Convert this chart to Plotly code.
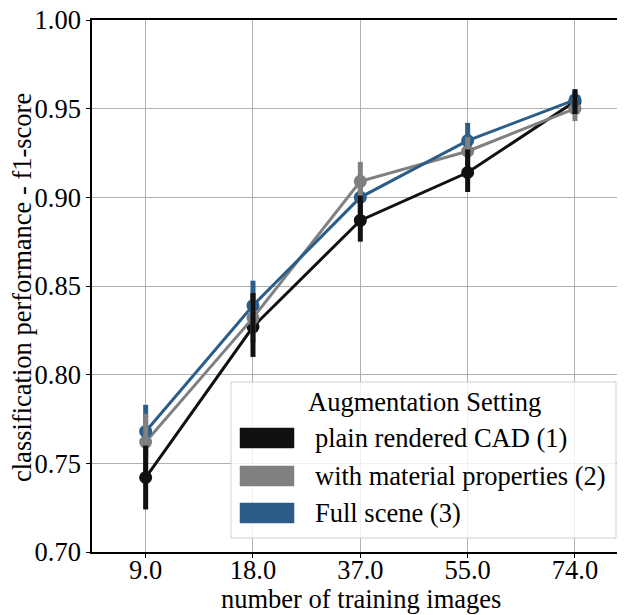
import plotly.graph_objects as go

categories = ["9.0", "18.0", "37.0", "55.0", "74.0"]
series_names = ["plain rendered CAD (1)", "with material properties (2)", "Full scene (3)"]
colors = ["#111111", "#808080", "#2b5d88"]

means = [
    [0.742, 0.827, 0.887, 0.914, 0.954],
    [0.762, 0.832, 0.909, 0.926, 0.950],
    [0.768, 0.839, 0.900, 0.932, 0.955],
]
ci_low = [
    [0.724, 0.810, 0.875, 0.903, 0.947],
    [0.745, 0.818, 0.898, 0.918, 0.943],
    [0.753, 0.826, 0.890, 0.923, 0.950],
]
ci_high = [
    [0.760, 0.846, 0.901, 0.927, 0.961],
    [0.778, 0.846, 0.920, 0.934, 0.956],
    [0.783, 0.853, 0.910, 0.942, 0.960],
]
y_ticks = [0.70, 0.75, 0.80, 0.85, 0.90, 0.95, 1.00]
y_ticklabels = ["0.70", "0.75", "0.80", "0.85", "0.90", "0.95", "1.00"]

FONT = "Liberation Serif"
FS = 26.5
xidx = list(range(len(categories)))

fig = go.Figure()
for name, col, m in zip(series_names, colors, means):
    fig.add_trace(go.Scatter(
        x=xidx, y=m, mode="lines+markers", name=name,
        line=dict(color=col, width=3),
        marker=dict(color=col, size=13),
        showlegend=False,
    ))
for i in [2, 1, 0]:
    m = means[i]
    fig.add_trace(go.Scatter(
        x=xidx, y=m, mode="markers",
        marker=dict(color=colors[i], size=1, opacity=0),
        error_y=dict(type="data", symmetric=False,
                     array=[h - v for h, v in zip(ci_high[i], m)],
                     arrayminus=[v - l for l, v in zip(ci_low[i], m)],
                     color=colors[i], thickness=5, width=0),
        showlegend=False, hoverinfo="skip",
    ))

# page pixel -> paper coordinate helpers (plot area: x 92..625, y 20..552 on the page)
def px2x(px):
    return (px - 92) / 533.0

def py2y(py):
    return (552 - py) / 532.0

# manual legend (patch-style)
fig.add_shape(type="rect", xref="paper", yref="paper",
              x0=px2x(231), x1=px2x(616), y0=py2y(538), y1=py2y(382),
              line=dict(color="#d0d0d0", width=1), fillcolor="rgba(255,255,255,0.8)",
              layer="above")
fig.add_annotation(xref="paper", yref="paper", x=px2x(424), y=py2y(402),
                   text="Augmentation Setting", showarrow=False,
                   font=dict(family=FONT, size=FS, color="black"),
                   xanchor="center", yanchor="middle")
rows = [438, 476, 513]
for name, col, ry in zip(series_names, colors, rows):
    fig.add_shape(type="rect", xref="paper", yref="paper",
                  x0=px2x(240), x1=px2x(294), y0=py2y(ry + 10), y1=py2y(ry - 10),
                  line=dict(color=col, width=0.5), fillcolor=col, layer="above")
    fig.add_annotation(xref="paper", yref="paper", x=px2x(313), y=py2y(ry),
                       text=name, showarrow=False,
                       font=dict(family=FONT, size=FS, color="black"),
                       xanchor="left", yanchor="middle")

# axis titles
fig.add_annotation(xref="paper", yref="paper", x=px2x(361), y=py2y(599),
                   text="number of training images", showarrow=False,
                   font=dict(family=FONT, size=FS, color="black"),
                   xanchor="center", yanchor="middle")
fig.add_annotation(xref="paper", yref="paper", x=px2x(22), y=py2y(288),
                   text="classification performance - f1-score", showarrow=False,
                   textangle=-90,
                   font=dict(family=FONT, size=FS, color="black"),
                   xanchor="center", yanchor="middle")

# figure is placed 8px in from the page corner (default body margin)
fig.update_layout(
    width=617, height=607,
    margin=dict(l=84, r=0, t=12, b=63),
    paper_bgcolor="white", plot_bgcolor="white",
    font=dict(family=FONT, color="black"),
    showlegend=False,
)
fig.update_xaxes(
    range=[-0.5, 4.466], tickvals=xidx, ticktext=categories,
    showgrid=True, gridcolor="#b0b0b0", gridwidth=1,
    showline=True, linecolor="black", linewidth=1.5, mirror=True,
    ticks="outside", ticklen=4, tickcolor="black",
    tickfont=dict(family=FONT, size=FS), ticklabelstandoff=-11,
    ticklabeloverflow="allow",
    zeroline=False, automargin=False,
)
fig.update_yaxes(
    range=[0.70, 1.00], tickvals=y_ticks, ticktext=y_ticklabels,
    showgrid=True, gridcolor="#b0b0b0", gridwidth=1,
    showline=True, linecolor="black", linewidth=1.5, mirror=False,
    ticks="outside", ticklen=4, tickcolor="black",
    tickfont=dict(family=FONT, size=FS),
    ticklabeloverflow="allow",
    zeroline=False, automargin=False,
)

fig.write_html("out.html")
